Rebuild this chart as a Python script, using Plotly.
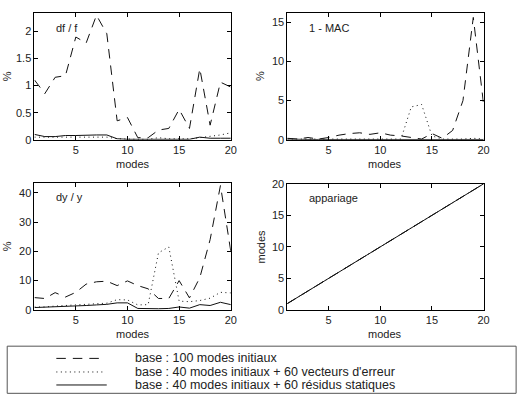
import plotly.graph_objects as go

modes = list(range(1, 21))

# df / f (%)
dff_100 = [1.1, 0.85, 1.15, 1.18, 1.89, 1.78, 2.29, 1.95, 0.35, 0.41, 0.04, 0.04, 0.18, 0.21, 0.56, 0.21, 1.31, 0.27, 1.06, 0.97]
dff_err = [0.05, 0.05, 0.05, 0.05, 0.06, 0.06, 0.05, 0.05, 0.02, 0.01, 0.01, 0.01, 0.04, 0.02, 0.02, 0.02, 0.04, 0.06, 0.09, 0.13]
dff_res = [0.10, 0.06, 0.06, 0.08, 0.08, 0.09, 0.09, 0.09, 0.02, 0.01, 0.01, 0.01, 0.01, 0.01, 0.02, 0.01, 0.05, 0.03, 0.03, 0.03]

# 1 - MAC (%)
mac_100 = [0.2, 0.1, 0.3, 0.1, 0.3, 0.6, 0.8, 0.9, 0.7, 0.9, 0.6, 0.5, 0.3, 0.1, 0.8, 0.2, 1.2, 5.0, 15.6, 4.5]
mac_err = [0.1, 0.1, 0.1, 0.1, 0.1, 0.1, 0.1, 0.1, 0.1, 0.1, 0.1, 0.1, 4.2, 4.5, 0.5, 0.1, 0.1, 0.1, 0.2, 0.1]
mac_res = [0.1, 0.05, 0.05, 0.05, 0.05, 0.05, 0.05, 0.05, 0.05, 0.05, 0.05, 0.05, 0.05, 0.05, 0.05, 0.05, 0.05, 0.05, 0.05, 0.05]

# dy / y (%)
dyy_100 = [4.2, 3.9, 5.9, 4.4, 6.0, 8.8, 9.6, 9.8, 8.3, 9.9, 8.3, 7.2, 3.9, 3.9, 10.0, 4.1, 11.0, 24.0, 42.5, 20.0]
dyy_err = [1.0, 1.0, 1.3, 1.5, 1.8, 1.8, 2.0, 2.3, 3.5, 3.4, 1.7, 1.8, 19.5, 21.5, 3.0, 2.8, 3.2, 4.0, 6.0, 5.8]
dyy_res = [0.8, 0.9, 1.0, 1.2, 1.3, 1.5, 1.7, 1.9, 2.4, 2.4, 0.5, 0.4, 0.4, 0.5, 1.0, 0.6, 1.8, 1.5, 2.6, 1.8]

# appariage (mode numbers)
pair_100 = [1, 2, 3, 4, 5, 6, 7, 8, 9, 10, 11, 12, 13, 14, 15, 16, 17, 18, 19, 20]
pair_err = [1, 2, 3, 4, 5, 6, 7, 8, 9, 10, 11, 12, 13, 14, 15, 16, 17, 18, 19, 20]
pair_res = [1, 2, 3, 4, 5, 6, 7, 8, 9, 10, 11, 12, 13, 14, 15, 16, 17, 18, 19, 20]

series_names = [
    "base : 100 modes initiaux",
    "base : 40 modes initiaux + 60 vecteurs d'erreur",
    "base : 40 modes initiaux + 60 résidus statiques",
]
panel_labels = ["df / f", "1 - MAC", "dy / y", "appariage"]
y_titles = ["%", "%", "%", "modes"]

W, H = 517, 400
FONT = "Liberation Sans, Arial, sans-serif"
DASHES = ["9.5px,7px", "1px,3.5px", "solid"]
LINE = "#111111"

panels = [
    (dff_100, dff_err, dff_res),
    (mac_100, mac_err, mac_res),
    (dyy_100, dyy_err, dyy_res),
    (pair_100, pair_err, pair_res),
]
# pixel boxes: (left, right, top, bottom)
boxes = [
    (34.9, 233.5, 7.3, 138.0),
    (290.7, 489.3, 7.3, 138.0),
    (34.9, 233.5, 182.3, 313.3),
    (290.7, 489.3, 183.3, 313.3),
]
yranges = [[0, 2.33], [0, 16.15], [0, 43.4], [0, 20]]
ytickvals = [[0, 0.5, 1, 1.5, 2], [0, 5, 10, 15], [0, 10, 20, 30, 40], [0, 5, 10, 15, 20]]
yticktext = [["0", "0.5", "1", "1.5", "2"], ["0", "5", "10", "15"], ["0", "10", "20", "30", "40"], ["0", "5", "10", "15", "20"]]

fig = go.Figure()
layout = dict(
    width=W, height=H,
    margin=dict(l=0, r=0, t=0, b=0),
    paper_bgcolor="white", plot_bgcolor="white",
    showlegend=False,
    font=dict(family=FONT, size=11, color="#222222"),
)

annotations = []
shapes = []

for i, (series, box) in enumerate(zip(panels, boxes)):
    n = i + 1
    xa = "x" if n == 1 else f"x{n}"
    ya = "y" if n == 1 else f"y{n}"
    l, r, t, b = box
    for s_idx in [0, 1, 2]:
        fig.add_trace(go.Scatter(
            x=modes, y=series[s_idx], mode="lines",
            line=dict(color=LINE, width=1, dash=DASHES[s_idx]),
            name=series_names[s_idx], xaxis=xa, yaxis=ya,
            showlegend=False, cliponaxis=True,
        ))
    axcommon = dict(
        showline=True, linecolor="#000000", linewidth=1, mirror="ticks",
        ticks="inside", ticklen=4, tickcolor="#000000", tickwidth=1,
        showgrid=False, zeroline=False,
        tickfont=dict(family=FONT, size=11, color="#222222"),
    )
    layout["xaxis" if n == 1 else f"xaxis{n}"] = dict(
        domain=[l / W, r / W], range=[1, 20], anchor=ya,
        tickvals=[5, 10, 15, 20], ticktext=["5", "10", "15", "20"], **axcommon,
    )
    layout["yaxis" if n == 1 else f"yaxis{n}"] = dict(
        domain=[1 - b / H, 1 - t / H], range=yranges[i], anchor=xa,
        tickvals=ytickvals[i], ticktext=yticktext[i], **axcommon,
    )
    annotations.append(dict(
        text=panel_labels[i], xref="paper", yref="paper",
        x=(l + 20) / W, y=1 - (t + 15) / H, xanchor="left", yanchor="middle",
        showarrow=False, font=dict(family=FONT, size=11, color="#222222"),
    ))
    annotations.append(dict(
        text="modes", xref="paper", yref="paper",
        x=((l + r) / 2) / W, y=1 - (b + 25) / H, xanchor="center", yanchor="middle",
        showarrow=False, font=dict(family=FONT, size=11, color="#222222"),
    ))
    annotations.append(dict(
        text=y_titles[i], xref="paper", yref="paper",
        x=(l - 27) / W, y=1 - ((t + b) / 2) / H, xanchor="center", yanchor="middle",
        textangle=-90, showarrow=False, font=dict(family=FONT, size=11, color="#222222"),
    ))

shapes.append(dict(type="rect", xref="paper", yref="paper",
                   x0=7.3 / W, x1=1.01, y0=1 - 399.3 / H, y1=1 - 350.7 / H,
                   line=dict(color="#555555", width=1), fillcolor="rgba(0,0,0,0)"))
legend_rows = [363.3, 377.3, 390.7]
legend_ends = [100.5, 106, 108]
for s_idx, (yy, xe) in enumerate(zip(legend_rows, legend_ends)):
    shapes.append(dict(type="line", xref="paper", yref="paper",
                       x0=57 / W, x1=xe / W, y0=1 - yy / H, y1=1 - yy / H,
                       line=dict(color=LINE, width=1, dash=DASHES[s_idx])))
    annotations.append(dict(
        text=series_names[s_idx], xref="paper", yref="paper",
        x=135 / W, y=1 - yy / H, xanchor="left", yanchor="middle",
        showarrow=False, font=dict(family=FONT, size=12.5, color="#222222"),
    ))

layout["annotations"] = annotations
layout["shapes"] = shapes
fig.update_layout(**layout)
fig.write_html("out.html", config={"displayModeBar": False},
               post_script="document.body.style.margin='0px';document.body.style.overflow='hidden';")
